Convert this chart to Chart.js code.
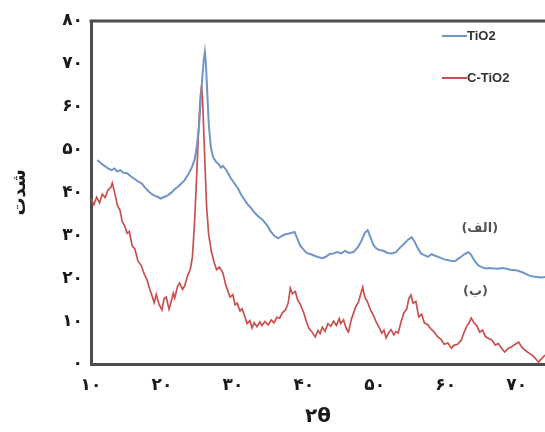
<!DOCTYPE html>
<html>
<head>
<meta charset="utf-8">
<script src="https://cdn.jsdelivr.net/npm/chart.js@4"></script>
<style>
  html,body{margin:0;padding:0;background:#fff;}
  #wrap{width:545px;height:432px;}
</style>
</head>
<body>
<div id="wrap"><canvas id="xrd" width="545" height="432"></canvas></div>
<script>
// tick values (shown with Persian digits)
const xTicks = [10, 20, 30, 40, 50, 60, 70];
const yTicks = [0, 10, 20, 30, 40, 50, 60, 70, 80];

const seriesNames = ['TiO2', 'C-TiO2'];
const curveTags = ['(الف)', '(ب)'];

// TiO2 pattern, [2θ, intensity]
const tio2Points = [
  [10.9,47.6],[11.4,46.8],[11.9,46.2],[12.4,45.6],[12.9,45.2],[13.3,45.6],[13.7,44.9],[14.1,45.2],
  [14.6,44.6],[15.1,44.5],[15.6,43.8],[16.1,43.2],[16.6,42.6],[17.1,42.2],[17.6,41.2],[18.1,40.3],
  [18.6,39.6],[19.0,39.2],[19.4,39.0],[19.8,38.6],[20.2,38.9],[20.7,39.2],[21.3,39.9],[21.8,40.8],
  [22.3,41.4],[22.8,42.2],[23.2,42.9],[23.7,44.2],[24.2,45.8],[24.6,47.6],[24.9,50.5],[25.2,55.0],
  [25.5,62.0],[25.7,67.0],[25.9,71.0],[26.05,72.8],[26.2,70.0],[26.4,63.0],[26.6,56.0],[26.9,50.5],
  [27.2,48.3],[27.6,47.2],[28.0,46.6],[28.3,45.8],[28.6,46.2],[29.1,45.2],[29.6,43.6],[30.1,42.4],
  [30.7,41.0],[31.2,39.4],[31.6,38.4],[32.1,37.2],[32.6,36.3],[33.1,35.2],[33.6,34.4],[34.2,33.6],
  [34.8,32.4],[35.3,31.0],[35.9,29.8],[36.4,29.3],[36.8,29.8],[37.3,30.2],[37.8,30.4],[38.3,30.6],
  [38.7,30.8],[39.1,29.2],[39.5,27.6],[40.0,26.6],[40.4,25.9],[41.0,25.6],[41.6,25.2],[42.1,24.9],
  [42.6,24.7],[43.1,25.0],[43.6,25.6],[44.2,25.8],[44.7,26.1],[45.3,25.8],[45.8,26.4],[46.4,25.9],
  [47.0,26.1],[47.6,27.2],[48.1,28.6],[48.6,30.6],[49.0,31.2],[49.4,29.6],[49.8,27.8],[50.2,27.0],
  [50.6,26.6],[51.2,26.4],[51.8,25.9],[52.4,25.8],[53.0,26.1],[53.6,27.2],[54.1,28.0],[54.7,29.0],
  [55.2,29.6],[55.6,28.6],[56.0,27.2],[56.5,25.8],[57.0,25.4],[57.5,25.0],[58.0,25.6],[58.6,25.2],
  [59.2,24.8],[59.8,24.4],[60.4,24.2],[60.9,24.0],[61.4,24.1],[62.0,24.8],[62.6,25.6],[63.2,26.1],
  [63.6,25.4],[64.1,24.0],[64.6,23.0],[65.1,22.6],[65.6,22.3],[66.2,22.4],[66.8,22.3],[67.4,22.2],
  [68.0,22.4],[68.6,22.2],[69.1,22.0],[69.7,21.9],[70.3,21.7],[70.8,21.4],[71.3,21.0],[71.8,20.6],
  [72.3,20.4],[72.9,20.3],[73.5,20.2],[74.0,20.3]
];

// C-TiO2 pattern, [2θ, intensity]
const ctio2Points = [
  [10.0,38.6],[10.4,37.2],[10.8,38.9],[11.2,37.6],[11.6,39.6],[12.0,38.8],[12.4,40.6],[12.8,41.2],
  [13.0,42.2],[13.4,39.5],[13.7,37.1],[14.1,35.8],[14.4,33.2],[14.7,32.4],[15.1,30.5],[15.4,30.9],
  [15.8,27.6],[16.2,26.8],[16.6,24.1],[17.1,22.9],[17.5,21.0],[17.9,19.6],[18.3,17.3],[18.6,15.9],
  [18.9,14.3],[19.2,16.2],[19.6,13.9],[20.0,12.6],[20.3,15.2],[20.6,15.6],[21.0,12.8],[21.3,14.5],
  [21.6,16.5],[21.8,15.4],[22.2,18.1],[22.5,18.9],[22.9,17.4],[23.2,18.2],[23.6,20.5],[24.0,22.1],
  [24.3,25.0],[24.6,33.0],[24.9,44.0],[25.1,52.0],[25.3,59.0],[25.45,63.0],[25.6,65.0],[25.75,61.0],
  [25.9,54.0],[26.1,45.0],[26.3,36.6],[26.6,30.0],[27.0,26.0],[27.4,23.5],[27.7,22.0],[28.1,22.6],
  [28.6,21.2],[29.0,18.4],[29.3,17.0],[29.6,15.6],[30.0,16.2],[30.3,13.8],[30.6,14.2],[31.0,12.4],
  [31.3,12.9],[31.7,11.0],[32.0,9.4],[32.4,10.1],[32.7,8.4],[33.0,9.6],[33.4,8.7],[33.8,9.8],
  [34.1,9.0],[34.5,9.9],[35.0,9.1],[35.4,10.3],[35.8,9.6],[36.2,10.9],[36.6,10.7],[37.0,12.0],
  [37.4,12.6],[37.8,14.2],[38.1,17.7],[38.4,16.4],[38.8,16.9],[39.1,15.1],[39.5,13.9],[40.0,11.9],
  [40.3,10.2],[40.7,8.4],[41.1,7.6],[41.6,6.3],[42.0,7.8],[42.3,7.1],[42.6,8.6],[43.0,7.6],
  [43.4,9.4],[43.8,8.8],[44.2,10.0],[44.6,9.0],[45.0,10.6],[45.2,9.4],[45.6,10.3],[46.0,8.2],
  [46.3,7.5],[46.7,10.4],[47.0,11.8],[47.3,13.3],[47.7,14.4],[48.0,16.2],[48.3,17.9],[48.6,15.6],
  [49.0,14.4],[49.4,12.6],[49.8,11.4],[50.2,9.8],[50.6,8.6],[51.0,7.2],[51.3,7.9],[51.6,6.1],
  [52.0,7.4],[52.3,8.0],[52.7,6.8],[53.0,7.6],[53.3,7.2],[53.7,9.8],[54.1,11.9],[54.5,12.8],
  [54.8,15.2],[55.1,16.1],[55.4,14.2],[55.8,14.6],[56.2,11.0],[56.6,11.6],[57.0,9.6],[57.5,9.1],
  [57.9,8.2],[58.3,7.6],[58.9,6.3],[59.3,5.8],[59.8,4.6],[60.3,4.9],[60.8,3.7],[61.2,4.4],
  [61.7,4.6],[62.2,5.6],[62.6,7.4],[63.0,8.9],[63.3,9.6],[63.6,10.7],[64.0,9.6],[64.4,8.9],
  [64.8,7.4],[65.2,7.9],[65.6,6.4],[66.0,6.0],[66.5,5.6],[67.0,4.4],[67.4,4.8],[67.9,3.6],
  [68.3,2.8],[68.8,3.6],[69.3,4.0],[69.8,4.6],[70.3,5.1],[70.7,4.0],[71.2,3.2],[71.7,2.6],
  [72.2,2.0],[72.6,1.4],[73.1,0.4],[73.5,1.2],[74.0,2.1]
];

const colors = { tio2:'#7096c8', ctio2:'#c9504e', axis:'#4d4d4d', text:'#1a1a1a' };
const faFont = "'DejaVu Sans', sans-serif";

function toFa(n){
  return String(n).replace(/[0-9]/g, d => String.fromCharCode(0x06F0 + Number(d)));
}

// top frame line, in-plot legend and curve tags
const decor = {
  id:'decor',
  afterDraw(chart){
    const {ctx, chartArea:a, scales:{x, y}} = chart;
    ctx.save();
    ctx.strokeStyle = colors.axis;
    ctx.lineWidth = 3;
    ctx.beginPath();
    ctx.moveTo(a.left - 1.5, a.top);
    ctx.lineTo(a.right, a.top);
    ctx.stroke();

    const items = [[seriesNames[0], colors.tio2, 36], [seriesNames[1], colors.ctio2, 78]];
    ctx.font = "bold 13px 'Liberation Sans', Arial, sans-serif";
    ctx.textBaseline = 'middle';
    items.forEach(([label, col, ly]) => {
      ctx.strokeStyle = col;
      ctx.lineWidth = 2;
      ctx.beginPath();
      ctx.moveTo(442, ly);
      ctx.lineTo(467, ly);
      ctx.stroke();
      ctx.fillStyle = '#333';
      ctx.textAlign = 'left';
      ctx.fillText(label, 467, ly);
    });

    ctx.font = 'bold 13px ' + faFont;
    ctx.fillStyle = '#555';
    ctx.textAlign = 'center';
    ctx.direction = 'rtl';
    ctx.fillText(curveTags[0], x.getPixelForValue(64.8), y.getPixelForValue(31.5));
    ctx.fillText(curveTags[1], x.getPixelForValue(64.2), y.getPixelForValue(16.8));
    ctx.restore();
  }
};

new Chart(document.getElementById('xrd'), {
  type:'line',
  data:{
    datasets:[
      { label:seriesNames[0], data:tio2Points.map(p => ({x:p[0], y:p[1]})),
        borderColor:colors.tio2, borderWidth:2, pointRadius:0, tension:0, fill:false },
      { label:seriesNames[1], data:ctio2Points.map(p => ({x:p[0], y:p[1]})),
        borderColor:colors.ctio2, borderWidth:1.7, pointRadius:0, tension:0, fill:false }
    ]
  },
  options:{
    responsive:false,
    animation:false,
    devicePixelRatio:1,
    layout:{ padding:{ top:21, right:0, left:0, bottom:0 } },
    plugins:{ legend:{ display:false }, tooltip:{ enabled:false } },
    scales:{
      x:{
        type:'linear', min:10, max:74,
        grid:{ display:false, drawTicks:false },
        border:{ display:true, color:colors.axis, width:3 },
        afterBuildTicks: s => { s.ticks = xTicks.map(v => ({value:v})); },
        afterFit: s => { s.height = 68; },
        ticks:{ padding:11, color:colors.text, font:{ family:faFont, size:17, weight:'bold' },
                callback: v => toFa(v), maxRotation:0 },
        title:{ display:true, text:'۲θ', color:colors.text, padding:{ top:0, bottom:3 },
                font:{ family:faFont, size:20, weight:'bold' } }
      },
      y:{
        min:0, max:80,
        grid:{ display:false, drawTicks:false },
        border:{ display:true, color:colors.axis, width:3 },
        afterBuildTicks: s => { s.ticks = yTicks.map(v => ({value:v})); },
        afterFit: s => { s.width = 91; },
        ticks:{ padding:8, color:colors.text, font:{ family:faFont, size:17, weight:'bold' },
                callback: v => toFa(v) },
        title:{ display:true, text:'شدت', color:colors.text, padding:{ top:10, bottom:0 },
                font:{ family:faFont, size:18, weight:'bold' } }
      }
    }
  },
  plugins:[decor]
});
</script>
</body>
</html>
